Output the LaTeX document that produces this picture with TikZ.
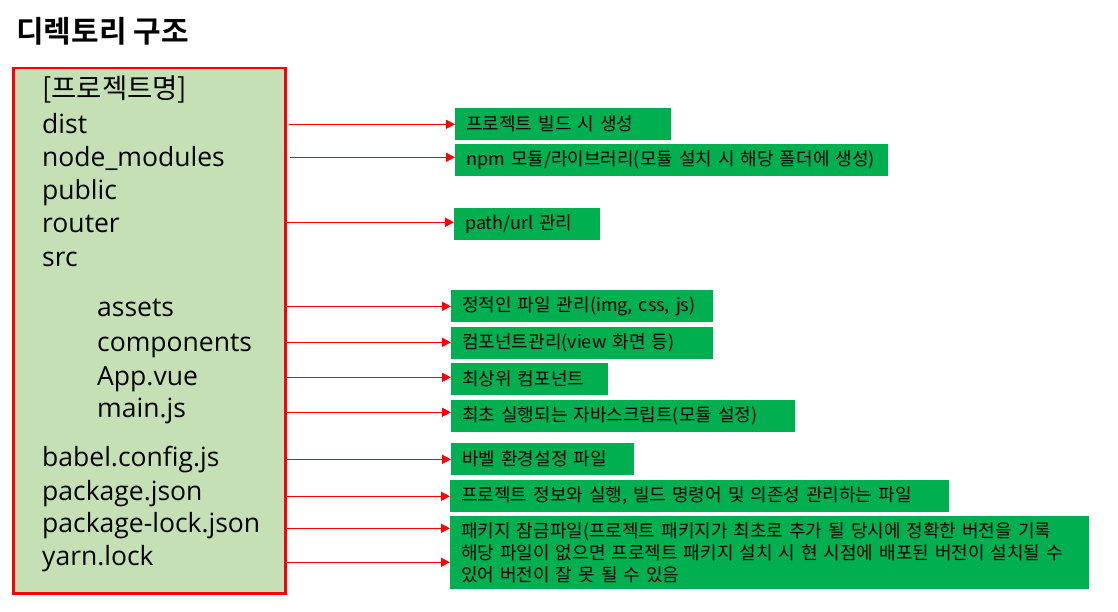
\documentclass[tikz,border=0pt]{standalone}
\usepackage{fontspec}
\setmainfont{Noto Sans CJK KR}[BoldFont={Noto Sans CJK KR Bold}]
\newfontfamily\listfont{Open Sans}
\usetikzlibrary{positioning,arrows.meta}

\definecolor{panelgreen}{HTML}{C5E0B4}
\definecolor{boxgreen}{HTML}{00B050}
\definecolor{linered}{HTML}{FF0000}

\begin{document}
\begin{tikzpicture}[
    x=1pt, y=-1pt,
    panel/.style={draw=linered, fill=panelgreen, line width=2.5pt, anchor=north west, inner sep=0pt},
    entry/.style={anchor=base west, inner sep=0pt, font=\listfont\fontsize{26.5}{30}\selectfont},
    note/.style={fill=boxgreen, anchor=north west, inner xsep=11pt, inner ysep=0pt, align=left, minimum height=31.7pt, font=\fontsize{18}{22}\selectfont},
    arrow/.style={-{Triangle[length=9pt,width=9pt]}, draw=linered, line width=1.5pt}
]
\useasboundingbox (0,0) rectangle (1118,612);

% Title
\node[anchor=base west, inner sep=0pt, font=\bfseries\fontsize{30}{34}\selectfont] (title) at (16,43) {디렉토리 구조};

% Directory tree panel
\node[panel, minimum width=272pt, minimum height=525pt] (tree) at (12,67) {};
\node[anchor=base west, inner sep=0pt, font=\fontsize{27.5}{30}\selectfont] (tProject) at (42,98.5) {[프로젝트명]};
\node[entry] (tDist) at (42,133.3) {dist};
\node[entry] (tModules) at (42,166.7) {node\_modules};
\node[entry] (tPublic) at (42,199.5) {public};
\node[entry] (tRouter) at (42,233) {router};
\node[entry] (tSrc) at (42,266.7) {src};
\node[entry] (tAssets) at (97,316.7) {assets};
\node[entry] (tComp) at (97,351) {components};
\node[entry] (tApp) at (97,385) {App.vue};
\node[entry] (tMain) at (97,417.7) {main.js};
\node[entry] (tBabel) at (42,466.7) {babel.config.js};
\node[entry] (tPkg) at (42,500) {package.json};
\node[entry] (tLock) at (42,532.3) {package-lock.json};
\node[entry] (tYarn) at (42,565) {yarn.lock};

% Description boxes
\node[note, text width=194pt] (nDist) at (455,108) {프로젝트 빌드 시 생성};
\node[note, text width=411pt] (nModules) at (455,144) {npm 모듈/라이브러리(모듈 설치 시 해당 폴더에 생성)};
\node[note, text width=124pt] (nRouter) at (454,208) {path/url 관리};
\node[note, text width=240pt] (nAssets) at (451,290) {정적인 파일 관리(img, css, js)};
\node[note, text width=240pt] (nComp) at (451,327) {컴포넌트관리(view 화면 등)};
\node[note, text width=135pt] (nApp) at (451,363) {최상위 컴포넌트};
\node[note, text width=322pt] (nMain) at (451,400) {최초 실행되는 자바스크립트(모듈 설정)};
\node[note, text width=161pt] (nBabel) at (451,443) {바벨 환경설정 파일};
\node[note, text width=477pt] (nPkg) at (450,480) {프로젝트 정보와 실행, 빌드 명령어 및 의존성 관리하는 파일};
\node[note, text width=617pt, minimum height=72.7pt] (nLock) at (450,516) {\mbox{패키지 잠금파일(프로젝트 패키지가 최초로 추가 될 당시에 정확한 버전을 기록}\\\mbox{해당 파일이 없으면 프로젝트 패키지 설치 시 현 시점에 배포된 버전이 설치될 수}\\있어 버전이 잘 못 될 수 있음};

% Arrow start points
\coordinate (sDist) at (289,124.3);
\coordinate (sModules) at (290,157.3);
\coordinate (sRouter) at (287,222.3);
\coordinate (sAssets) at (286,306.3);
\coordinate (sComp) at (286,342.3);
\coordinate (sApp) at (286,377.3);
\coordinate (sMain) at (286,412.3);
\coordinate (sBabel) at (286,459.3);
\coordinate (sPkg) at (286,496.3);
\coordinate (sLock) at (286,528.3);
\coordinate (sYarn) at (286,562.3);

% Arrows
\draw[arrow] (sDist) -- (sDist -| nDist.west);
\draw[arrow] (sModules) -- (sModules -| nModules.west);
\draw[arrow] (sRouter) -- (sRouter -| nRouter.west);
\draw[arrow] (sAssets) -- (sAssets -| nAssets.west);
\draw[arrow] (sComp) -- (sComp -| nComp.west);
\draw[arrow] (sApp) -- (sApp -| nApp.west);
\draw[arrow] (sMain) -- (sMain -| nMain.west);
\draw[arrow] (sBabel) -- (sBabel -| nBabel.west);
\draw[arrow] (sPkg) -- (sPkg -| nPkg.west);
\draw[arrow] (sLock) -- (sLock -| nLock.west);
\draw[arrow] (sYarn) -- (sYarn -| nLock.west);

\end{tikzpicture}
\end{document}
